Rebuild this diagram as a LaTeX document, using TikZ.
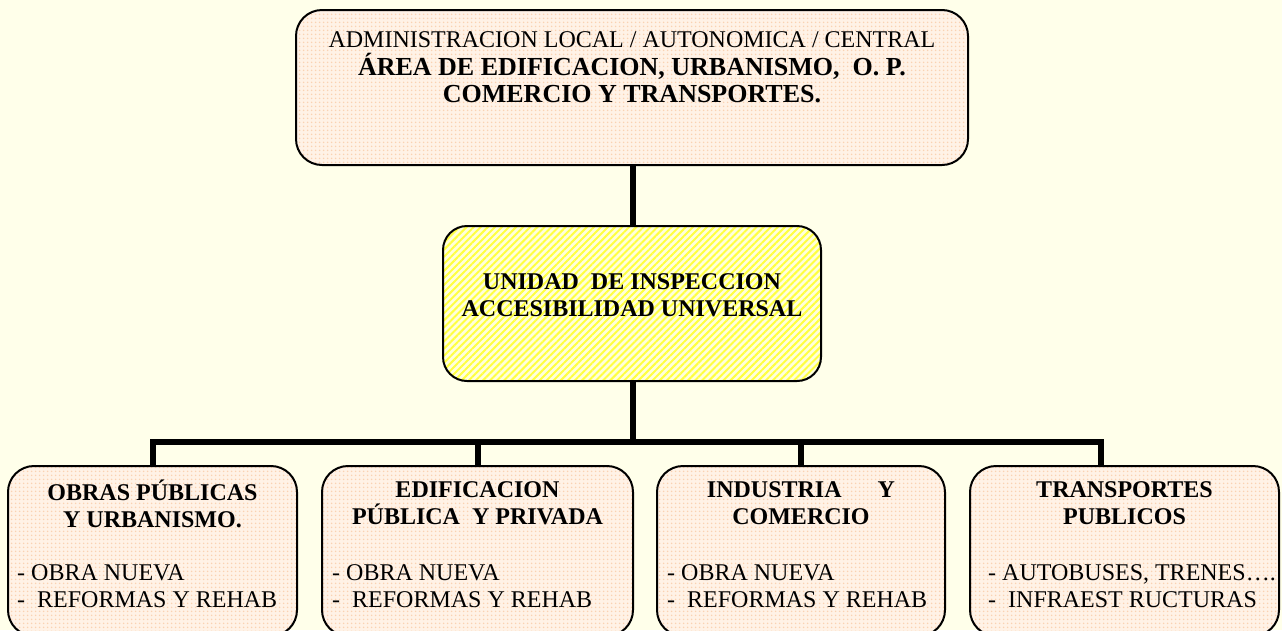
\documentclass[tikz,border=0pt]{standalone}
\usepackage{fontspec}
\setmainfont{Liberation Serif}
\usetikzlibrary{patterns.meta}
\definecolor{bg}{HTML}{FFFFEA}
\definecolor{peach}{HTML}{FFF2E6}
\definecolor{peachdot}{HTML}{FAD2B2}
\definecolor{hatch}{HTML}{FFFF40}
\definecolor{hatchbg}{HTML}{FFFFDC}
\tikzset{
  peachbox/.style={draw=black, line width=2pt, rounded corners=26pt, inner sep=0pt,
    preaction={fill=peach}, pattern={Dots[distance=4pt,radius=1pt]}, pattern color=peachdot},
  yellowbox/.style={draw=black, line width=2pt, rounded corners=24pt, inner sep=0pt,
    preaction={fill=hatchbg}, pattern={Lines[angle=45,distance=5pt,line width=2pt]}, pattern color=hatch},
  conn/.style={line width=6pt, draw=black},
  regtxt/.style={inner sep=0pt, align=center, font=\fontsize{24}{27}\selectfont},
  boldtxt/.style={inner sep=0pt, align=center, font=\fontsize{24}{27}\selectfont\bfseries},
  itemtxt/.style={inner sep=0pt, align=left, anchor=west, font=\fontsize{24}{27}\selectfont},
}
\begin{document}
\begin{tikzpicture}[x=1pt,y=-1pt]
\useasboundingbox (0,0) rectangle (1282,630);
\fill[bg] (0,0) rectangle (1282,630);

% boxes
\node[peachbox, minimum width=672pt, minimum height=155pt] (top) at (632,87.5) {};
\node[yellowbox, minimum width=378pt, minimum height=155pt] (mid) at (632,303.5) {};
\node[peachbox, minimum width=289pt, minimum height=170pt] (b1) at (152.5,551) {};
\node[peachbox, minimum width=311pt, minimum height=170pt] (b2) at (477.5,551) {};
\node[peachbox, minimum width=288pt, minimum height=170pt] (b3) at (801,551) {};
\node[peachbox, minimum width=309pt, minimum height=170pt] (b4) at (1124.5,551) {};

% connectors
\coordinate (bar) at (633,442);
\coordinate (d4) at (1101,442);
\draw[conn] (top.south -| bar) -- (mid.north -| bar);
\draw[conn] (mid.south -| bar) -- (bar);
\draw[conn, line cap=rect] (b1.north |- bar) -- (d4);
\draw[conn] (b1.north |- bar) -- (b1.north);
\draw[conn] (b2.north |- bar) -- (b2.north);
\draw[conn] (b3.north |- bar) -- (b3.north);
\draw[conn] (d4) -- (d4 |- b4.north);

% texts
\node[regtxt] (toptxt1) at (632,40) {ADMINISTRACION LOCAL / AUTONOMICA / CENTRAL};
\node[boldtxt, font=\fontsize{26}{27}\selectfont\bfseries] (toptxt2) at (632,78.5) {ÁREA DE EDIFICACION, URBANISMO,\ \ O. P.\\COMERCIO Y TRANSPORTES.};
\node[boldtxt] (midtxt) at (632,295) {UNIDAD\ \ DE INSPECCION\\ACCESIBILIDAD UNIVERSAL};

\node[boldtxt] (t1) at (152.5,503.5) {OBRAS PÚBLICAS\\Y URBANISMO.};
\node[boldtxt] (t2) at (477.5,503.5) {EDIFICACION\\PÚBLICA\ \ Y PRIVADA};
\node[boldtxt] (t3) at (801,503.5) {INDUSTRIA\ \ \ \ \ \ Y\\COMERCIO};
\node[boldtxt] (t4) at (1124.5,503.5) {TRANSPORTES\\PUBLICOS};

\node[itemtxt] (i1) at (17,586.5) {- OBRA NUEVA\\-\ \ REFORMAS Y REHAB};
\node[itemtxt] (i2) at (332,586.5) {- OBRA NUEVA\\-\ \ REFORMAS Y REHAB};
\node[itemtxt] (i3) at (667,586.5) {- OBRA NUEVA\\-\ \ REFORMAS Y REHAB};
\node[itemtxt] (i4) at (988,586.5) {- AUTOBUSES, TRENES….\\-\ \ INFRAEST RUCTURAS};
\end{tikzpicture}
\end{document}
